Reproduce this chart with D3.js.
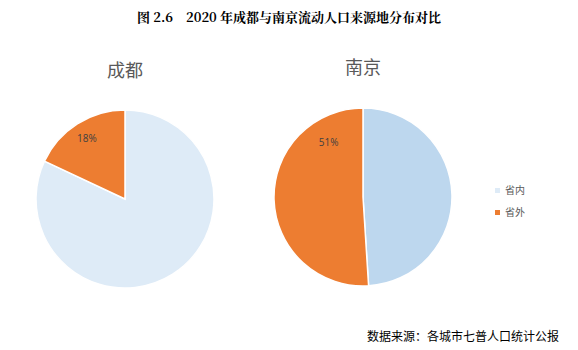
<!DOCTYPE html>
<html>
<head>
<meta charset="utf-8">
<script src="https://cdn.jsdelivr.net/npm/d3@7"></script>
<style>
  html, body { margin: 0; padding: 0; background: #fff; }
  svg { display: block; }
</style>
</head>
<body>
<svg id="chart" width="578" height="350"></svg>
<script>
// Origin of migrant population, 2020: within province vs. outside province
const categories = ["省内", "省外"];
const cities = ["成都", "南京"];
const chengduValues = [82, 18];
const nanjingValues = [49, 51];

const svg = d3.select("#chart");
const fontCN = "'Noto Sans CJK SC', 'Noto Sans', sans-serif";

// Title
svg.append("text")
  .attr("x", 289).attr("y", 22)
  .attr("text-anchor", "middle")
  .attr("font-family", "'Noto Serif CJK SC', 'Noto Sans CJK SC', serif")
  .attr("font-weight", "bold")
  .attr("font-size", 13)
  .attr("fill", "#000")
  .text("图 2.6　2020 年成都与南京流动人口来源地分布对比");

const pies = [
  { name: cities[0], values: chengduValues, cx: 125, cy: 199, titleY: 77, labelR: 71,
    colors: ["#DEEBF7", "#ED7D31"] },
  { name: cities[1], values: nanjingValues, cx: 363, cy: 197, titleY: 74, labelR: 64,
    colors: ["#BDD7EE", "#ED7D31"] }
];

const radius = 89;
const pie = d3.pie().sort(null).value(d => d);
const arc = d3.arc().innerRadius(0).outerRadius(radius);

pies.forEach(p => {
  const g = svg.append("g").attr("transform", `translate(${p.cx},${p.cy})`);
  const arcs = pie(p.values);
  g.selectAll("path")
    .data(arcs)
    .join("path")
    .attr("d", arc)
    .attr("fill", (d, i) => p.colors[i])
    .attr("stroke", "#fff")
    .attr("stroke-width", 1.5);

  // Percentage label on the outside-province slice, kept near its trailing edge
  const idx = categories.indexOf("省外");
  const a = arcs[idx];
  const span = a.endAngle - a.startAngle;
  const ang = a.endAngle - Math.min(span / 2, 0.09 * 2 * Math.PI);
  g.append("text")
    .attr("x", p.labelR * Math.sin(ang))
    .attr("y", -p.labelR * Math.cos(ang))
    .attr("text-anchor", "middle")
    .attr("dominant-baseline", "middle")
    .attr("font-family", "'Open Sans', 'Noto Sans', sans-serif")
    .attr("font-size", 10)
    .attr("fill", "#404040")
    .text(p.values[idx] + "%");

  svg.append("text")
    .attr("x", p.cx).attr("y", p.titleY)
    .attr("text-anchor", "middle")
    .attr("font-family", fontCN)
    .attr("font-size", 18)
    .attr("fill", "#595959")
    .text(p.name);
});

// Legend
const legendColors = ["#DEEBF7", "#ED7D31"];
const lg = svg.append("g").attr("transform", "translate(495,191)");
categories.forEach((c, i) => {
  const row = lg.append("g").attr("transform", `translate(0,${i * 22})`);
  row.append("rect").attr("x", 0).attr("y", -3).attr("width", 5).attr("height", 5)
    .attr("fill", legendColors[i]);
  row.append("text").attr("x", 10).attr("y", 0)
    .attr("dominant-baseline", "middle")
    .attr("font-family", fontCN)
    .attr("font-size", 10)
    .attr("fill", "#595959")
    .text(c);
});

// Source note
svg.append("text")
  .attr("x", 559).attr("y", 341)
  .attr("text-anchor", "end")
  .attr("font-family", fontCN)
  .attr("font-size", 12)
  .attr("fill", "#000")
  .text("数据来源：各城市七普人口统计公报");
</script>
</body>
</html>
